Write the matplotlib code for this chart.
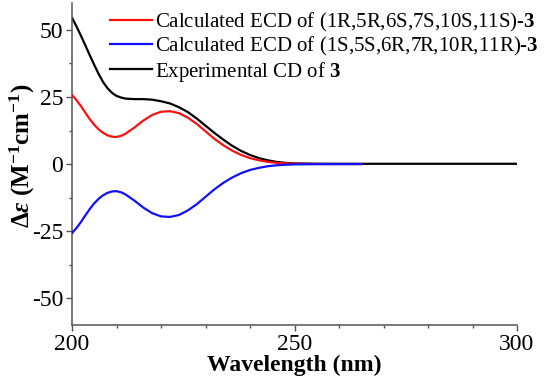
import matplotlib
matplotlib.use("Agg")
import matplotlib.pyplot as plt
from matplotlib.ticker import MultipleLocator

# wavelengths (nm) and values
wl_calc = [200, 201, 202, 203, 204, 205, 206, 207, 208, 209, 210, 211, 212, 214,
           216, 218, 220, 222, 224, 226, 228, 230, 232, 234, 236, 238, 240, 242,
           244, 246, 248, 250, 255, 260, 265]
ecd_1R = [25.7, 23.8, 21.6, 19.1, 16.7, 14.6, 12.9, 11.6, 10.7, 10.2, 10.1, 10.5,
          11.3, 13.6, 16.2, 18.3, 19.5, 19.7, 19.0, 17.3, 15.0, 12.2, 9.4, 7.0,
          5.0, 3.4, 2.2, 1.4, 0.8, 0.45, 0.25, 0.12, 0.03, 0.01, 0.0]
ecd_1S = [-25.7, -23.8, -21.6, -19.1, -16.7, -14.6, -12.9, -11.6, -10.7, -10.2,
          -10.1, -10.5, -11.3, -13.6, -16.2, -18.3, -19.5, -19.7, -19.0, -17.3,
          -15.0, -12.2, -9.4, -7.0, -5.0, -3.4, -2.2, -1.4, -0.8, -0.45, -0.25,
          -0.12, -0.03, -0.01, 0.0]

wl_exp = [200, 201, 202, 203, 204, 205, 206, 207, 208, 209, 210, 211, 212, 214,
          216, 218, 220, 222, 224, 226, 228, 230, 232, 234, 236, 238, 240, 242,
          244, 246, 248, 250, 255, 260, 270, 280, 290, 300]
cd_exp = [54.5, 51.3, 47.8, 44.2, 40.5, 36.9, 33.5, 30.5, 28.2, 26.5, 25.4, 24.8,
          24.4, 24.2, 24.2, 24.0, 23.4, 22.6, 21.2, 19.4, 17.0, 14.3, 11.6, 9.1,
          6.8, 4.9, 3.4, 2.2, 1.4, 0.8, 0.45, 0.25, 0.12, 0.1, 0.1, 0.1, 0.1, 0.1]

plt.rcParams['font.family'] = ['Liberation Serif', 'DejaVu Serif']
plt.rcParams['axes.unicode_minus'] = False
plt.rcParams['mathtext.fontset'] = 'custom'
plt.rcParams['mathtext.rm'] = 'Liberation Serif:bold'
plt.rcParams['mathtext.it'] = 'Liberation Serif:bold:italic'
plt.rcParams['mathtext.bf'] = 'Liberation Serif:bold'

fig, ax = plt.subplots(figsize=(5.5, 3.82), dpi=100)
plt.subplots_adjust(left=0.131, right=0.94, top=0.992, bottom=0.149)

l_exp, = ax.plot(wl_exp, cd_exp, color='black', lw=1.6, zorder=2)
l_red, = ax.plot(wl_calc, ecd_1R, color='#ff1010', lw=1.6, zorder=3)
l_blue, = ax.plot(wl_calc, ecd_1S, color='#1010ff', lw=1.6, zorder=4)

ax.legend([l_red, l_blue, l_exp],
          ['Calculated ECD of (1R,5R,6S,7S,10S,11S)-$\\mathbf{3}$',
           'Calculated ECD of (1S,5S,6R,7R,10R,11R)-$\\mathbf{3}$',
           'Experimental CD of $\\mathbf{3}$'],
          loc='upper left', bbox_to_anchor=(0.043, 1.035), frameon=False,
          fontsize=15, handlelength=2.0, handletextpad=0.15, labelspacing=0.07)

ax.set_xlim(200, 300)
ax.set_ylim(-60, 60)
ax.xaxis.set_major_locator(MultipleLocator(50))
ax.xaxis.set_minor_locator(MultipleLocator(10))
ax.yaxis.set_major_locator(MultipleLocator(25))
ax.yaxis.set_minor_locator(MultipleLocator(12.5))
ax.set_yticks([-50, -25, 0, 25, 50])

for s in ['top', 'right']:
    ax.spines[s].set_visible(False)
for s in ['left', 'bottom']:
    ax.spines[s].set_color('#555555')
    ax.spines[s].set_linewidth(1.1)
ax.tick_params(which='major', length=4.5, width=1.0, color='#555555', labelsize=17, pad=2)
ax.tick_params(which='minor', length=2.5, width=1.0, color='#555555')

ax.set_xlabel('Wavelength (nm)', fontsize=17, fontweight='bold', labelpad=0)
ax.set_ylabel('$\\Delta\\mathit{\\varepsilon}$ (M$^{-1}$cm$^{-1}$)', fontsize=18,
              fontweight='bold')
ax.yaxis.set_label_coords(-0.078, 0.525)

plt.savefig('out.png', dpi=100)
